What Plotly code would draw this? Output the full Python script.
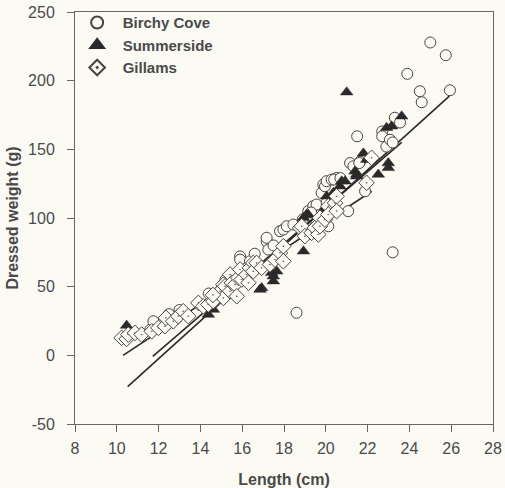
import plotly.graph_objects as go

# ---------------- data ----------------
birchy_x = [11.6, 11.75, 15.9, 15.9, 16.37, 17.17, 17.25, 17.17, 17.81, 17.97, 18.13, 18.45,
            18.6, 19.16, 19.4, 19.56, 19.8, 19.88, 19.96, 20.04, 20.04, 20.12, 20.28, 20.52,
            20.4, 20.7, 21.07, 21.16, 21.32, 21.64, 21.6, 21.88, 21.5, 22.9, 22.7, 22.7,
            23.07, 23.2, 23.3, 23.55, 23.2, 24.59, 24.5, 23.9, 25.94, 25.74, 25.0,
            16.6, 17.5, 18.9, 19.3, 15.2, 14.4, 13.0, 12.5]
birchy_y = [18.6, 24.8, 72.0, 69.7, 68.5, 83.0, 77.0, 85.6, 90.4, 91.6, 94.0, 95.2,
            31.0, 105.0, 108.6, 109.8, 118.3, 124.4, 123.1, 126.8, 111.0, 94.0, 128.0, 129.2,
            128.0, 129.0, 105.0, 140.0, 137.7, 141.0, 140.0, 119.5, 159.5, 152.0, 163.0, 159.5,
            157.0, 155.0, 173.0, 169.5, 75.0, 184.3, 192.3, 205.0, 193.0, 218.5, 227.8,
            74.0, 80.0, 99.0, 104.0, 55.0, 45.0, 33.0, 30.0]

summer_x = [10.47, 14.38, 14.62, 15.74, 16.85, 16.93, 17.41, 17.49, 17.49, 17.65, 18.93,
            18.93, 19.08, 19.16, 19.32, 19.96, 20.04, 20.36, 20.68, 20.76, 20.92, 21.4,
            21.48, 21.48, 21.8, 21.96, 22.51, 22.99, 22.99, 22.91, 23.15, 23.63, 21.0]
summer_y = [21.7, 29.7, 33.3, 44.2, 47.9, 49.1, 60.1, 54.0, 57.6, 61.2, 75.8,
            100.1, 102.5, 102.5, 92.8, 107.4, 115.8, 118.3, 123.1, 126.8, 126.8, 134.0,
            130.4, 131.7, 147.1, 142.5, 131.7, 140.0, 136.5, 165.7, 166.8, 174.1, 191.6]

gill_x = [10.23, 10.47, 10.55, 10.87, 11.19, 11.67, 11.99, 12.3, 12.35, 12.7, 12.94, 13.18,
          13.42, 13.9, 14.14, 14.38, 14.62, 14.86, 14.94, 15.1, 15.1, 15.18, 15.42, 15.42,
          15.5, 15.66, 15.74, 15.81, 15.9, 15.98, 16.21, 16.3, 16.37, 16.53, 16.53, 16.69,
          16.93, 17.33, 17.57, 17.81, 17.97, 17.97, 18.77, 18.85, 19.0, 19.32, 19.48, 19.64,
          19.72, 19.72, 19.96, 20.12, 20.12, 20.44, 20.52, 20.52, 21.95, 22.19, 14.6]
gill_y = [12.7, 12.0, 15.1, 16.3, 15.1, 17.5, 20.0, 21.2, 27.3, 24.8, 28.5, 32.1,
          28.5, 38.2, 35.7, 37.0, 39.4, 45.5, 46.7, 41.8, 51.5, 50.3, 46.7, 58.8,
          52.8, 51.5, 43.0, 56.4, 62.5, 55.2, 58.8, 52.8, 63.7, 67.3, 61.2, 67.3,
          63.7, 66.1, 69.7, 74.6, 79.4, 68.5, 92.8, 94.0, 86.8, 89.2, 92.8, 88.0,
          100.1, 94.0, 98.8, 108.6, 102.5, 111.0, 115.8, 105.0, 125.6, 143.8, 44.0]

# fitted regression lines: end points
fit_birchy_x = [10.52, 25.91]
fit_birchy_y = [-22.8, 188.7]
fit_summer_x = [11.72, 23.63]
fit_summer_y = [-0.7, 155.0]
fit_gill_x = [10.3, 22.2]
fit_gill_y = [0.0, 119.5]

x_ticks = [8, 10, 12, 14, 16, 18, 20, 22, 24, 26, 28]
y_ticks = [-50, 0, 50, 100, 150, 200, 250]
y_tick_labels = ["-50", "0", "50", "100", "150", "200", "250"]

# ---------------- styling ----------------
BG = "#fbfbf3"
INK = "#2a2a2a"
TXT = "#4a4a4a"
AX = "#666666"
FONT = "Liberation Sans, Arial, sans-serif"

fig = go.Figure()

for fx, fy in [(fit_birchy_x, fit_birchy_y), (fit_summer_x, fit_summer_y), (fit_gill_x, fit_gill_y)]:
    fig.add_trace(go.Scatter(x=fx, y=fy, mode="lines", showlegend=False,
                             line=dict(color=INK, width=1.6), hoverinfo="skip"))

fig.add_trace(go.Scatter(x=birchy_x, y=birchy_y, mode="markers", name="Birchy Cove",
                         marker=dict(symbol="circle", size=11, color=BG,
                                     line=dict(color="#444444", width=1))))
fig.add_trace(go.Scatter(x=summer_x, y=summer_y, mode="markers", name="Summerside",
                         marker=dict(symbol="triangle-up", size=11, color=INK,
                                     line=dict(color=INK, width=0.5))))
fig.add_trace(go.Scatter(x=gill_x, y=gill_y, mode="markers", name="Gillams",
                         marker=dict(symbol="diamond-dot", size=12, color=BG,
                                     line=dict(color="#444444", width=1))))

fig.update_layout(
    width=505, height=488,
    margin=dict(l=75, r=12, t=12, b=64, autoexpand=False),
    paper_bgcolor=BG, plot_bgcolor=BG,
    font=dict(family=FONT, size=16, color=TXT),
    legend=dict(x=-0.008, y=1.014, xanchor="left", yanchor="top", bgcolor="rgba(0,0,0,0)",
                font=dict(size=15, color=TXT, family=FONT, weight="bold"),
                tracegroupgap=0, itemsizing="constant", itemwidth=41),
    showlegend=True,
)
fig.update_xaxes(range=[8, 28], tickvals=x_ticks, ticks="outside", ticklen=7, tickcolor=AX,
                 showgrid=False, zeroline=False, showline=True, linecolor=AX, linewidth=1,
                 mirror=True, automargin=False, ticklabelstandoff=3, ticklabeloverflow="allow",
                 title=dict(text="<b>Length (cm)</b>", standoff=17, font=dict(size=16, color=TXT)),
                 tickfont=dict(size=16, color=TXT))
fig.update_yaxes(range=[-50, 250], tickvals=y_ticks, ticktext=y_tick_labels,
                 ticks="outside", ticklen=7, tickcolor=AX,
                 showgrid=False, zeroline=False, showline=True, linecolor=AX, linewidth=1,
                 mirror=True, automargin=False, ticklabelstandoff=9, ticklabeloverflow="allow",
                 title=dict(text="<b>Dressed weight (g)</b>", standoff=5, font=dict(size=16, color=TXT)),
                 tickfont=dict(size=16, color=TXT))

# remove the default 8px page margin so the figure fills the window exactly
fig.write_html("out.html", config={"displayModeBar": False},
               post_script="document.body.style.margin='0';document.body.style.background='%s';" % BG)
